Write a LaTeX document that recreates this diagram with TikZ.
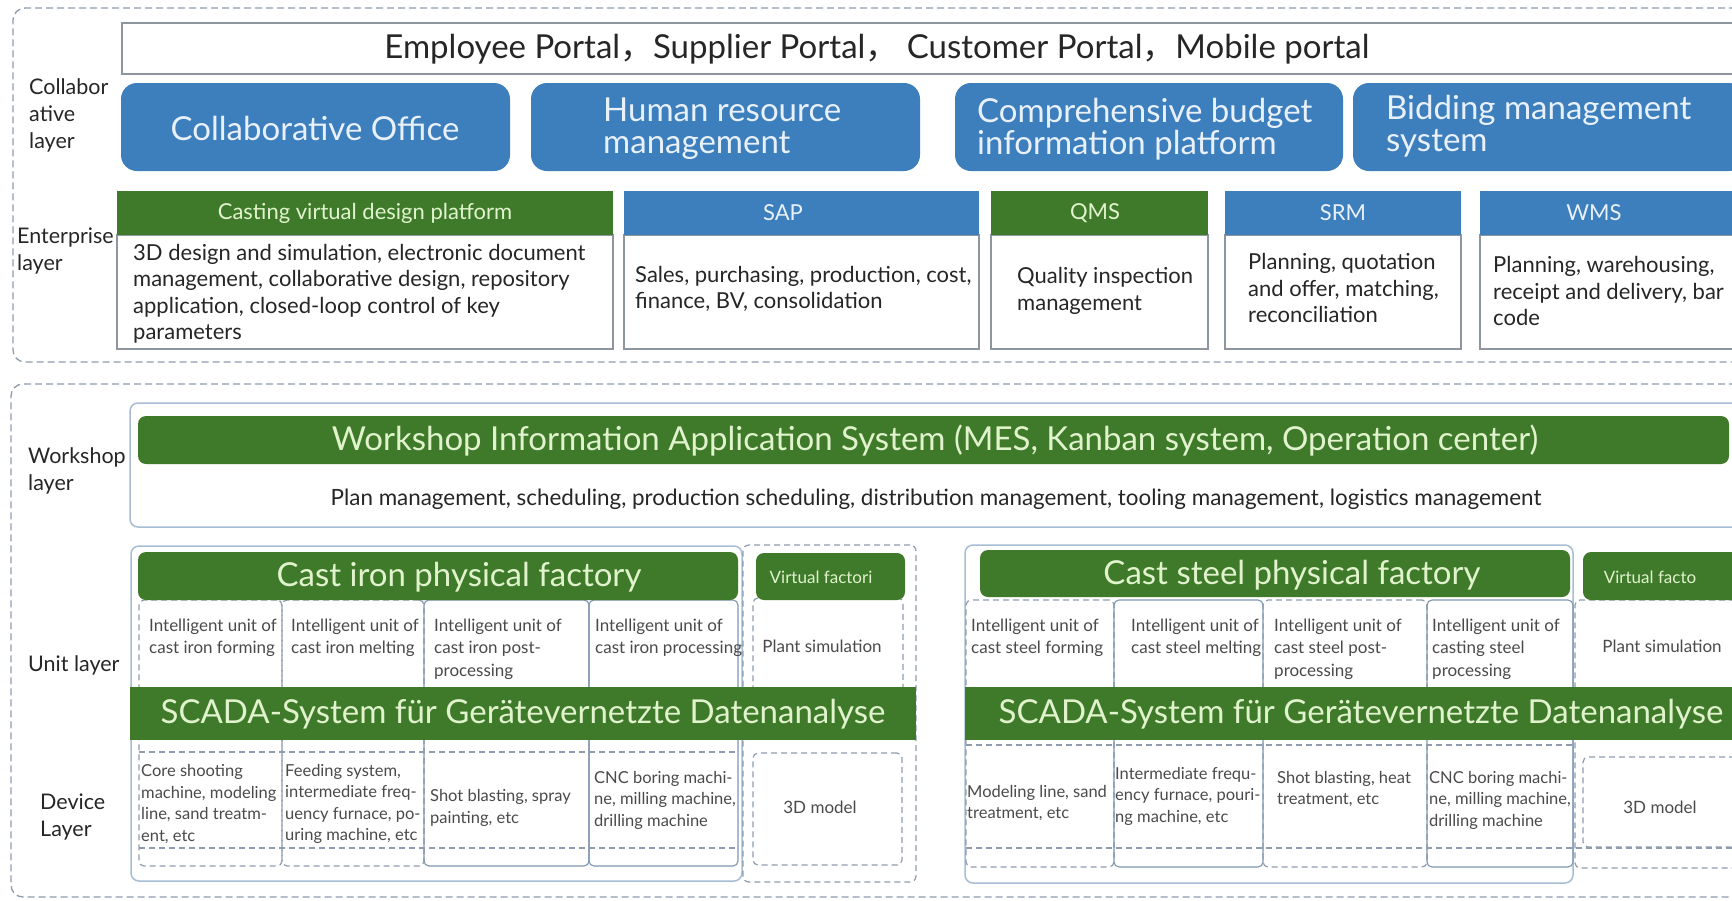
\documentclass[tikz,border=0pt]{standalone}
\usepackage{fontspec}
\setmainfont{Lato}
\newfontfamily\cjk{Noto Sans CJK SC}
\usetikzlibrary{fit}
\definecolor{cblue}{HTML}{3D7EBD}
\definecolor{cgreen}{HTML}{3F7A2B}
\definecolor{tgreen}{HTML}{E0F3CC}
\definecolor{tblue}{HTML}{E8F1FA}
\definecolor{dgray}{HTML}{8E9CAE}
\definecolor{bgray}{HTML}{8D959E}
\definecolor{lblue}{HTML}{A7BDD3}
\definecolor{sblue}{HTML}{7E96B2}
\definecolor{txt}{HTML}{262626}
\definecolor{stxt}{HTML}{4A4A4A}

\newcommand{\bx}[6]{%
  \coordinate (#1-nw) at (#2,#3);
  \coordinate (#1-se) at (#4,#5);
  \node[#6, inner sep=0pt, outer sep=0pt, fit=(#1-nw)(#1-se)] (#1) {};}

\tikzset{
  outerdash/.style={draw=dgray, dash pattern=on 7pt off 4pt, line width=1.3pt, rounded corners=12pt},
  portalbox/.style={draw=bgray, line width=1.5pt, fill=white},
  bluebox/.style={fill=cblue, rounded corners=16pt},
  greenhead/.style={fill=cgreen},
  bluehead/.style={fill=cblue},
  bodybox/.style={draw=bgray, line width=1.5pt, fill=white},
  lightbox/.style={draw=lblue, line width=1.5pt, rounded corners=8pt, fill=white},
  celldash/.style={draw=dgray, dash pattern=on 6pt off 4pt, line width=1.2pt, rounded corners=5pt},
  cellsolid/.style={draw=sblue, line width=1.1pt, rounded corners=5pt},
  dline/.style={draw=dgray, dash pattern=on 6pt off 4pt, line width=1.2pt},
  lbl/.style={font=\fontsize{21.5}{27}\selectfont, text=txt, align=left, anchor=west, inner sep=0pt},
  bluetxt/.style={font=\fontsize{33}{32}\selectfont, text=tblue, align=left, inner sep=0pt},
  headtxt/.style={font=\fontsize{22}{24}\selectfont, inner sep=0pt},
  bodytxt/.style={font=\fontsize{22}{26.5}\selectfont, text=txt, align=left, anchor=west, inner sep=0pt},
  bigtxt/.style={font=\fontsize{33}{34}\selectfont, text=tgreen, inner sep=0pt},
  unittxt/.style={font=\fontsize{17}{22.5}\selectfont, text=stxt, align=left, anchor=west, inner sep=0pt},
  devtxt/.style={font=\fontsize{16.5}{21.5}\selectfont, text=stxt, align=left, anchor=west, inner sep=0pt},
  vtxt/.style={font=\fontsize{17}{18}\selectfont, text=stxt, inner sep=0pt},
  vhtxt/.style={font=\fontsize{17}{18}\selectfont, text=tgreen, inner sep=0pt}
}

\begin{document}
\begin{tikzpicture}[x=1pt,y=-1pt]
\useasboundingbox (0,0) rectangle (1732,900);
\clip (0,0) rectangle (1732,900);
\fill[white] (0,0) rectangle (1732,900);

% ---------- upper section ----------
\bx{topframe}{13}{8}{1770}{362}{outerdash}
\bx{portal}{122}{23}{1760}{74}{portalbox}
\node[font=\fontsize{33}{36}\selectfont, text=txt, inner sep=0pt] (tportal) at (877,49)
  {Employee Portal{\cjk ，}Supplier Portal{\cjk ，} Customer Portal{\cjk ，}Mobile portal};

\bx{co}{121}{83}{510}{171}{bluebox}
\bx{hr}{531}{83}{920}{171}{bluebox}
\bx{cb}{955}{83}{1343}{171}{bluebox}
\bx{bm}{1353}{83}{1745}{171}{bluebox}
\node[bluetxt] (tco) at (315,128) {Collaborative Office};
\node[bluetxt, anchor=west] (thr) at (603,129) {Human resource\\management};
\node[bluetxt, anchor=west] (tcb) at (977,129) {Comprehensive budget\\information platform};
\node[bluetxt, anchor=west] (tbm) at (1386,126) {Bidding management\\system};

% enterprise systems
\bx{cvdb}{117}{235}{613}{349}{bodybox}
\bx{cvdh}{117}{191}{613}{235}{greenhead}
\bx{sapb}{624}{235}{979}{349}{bodybox}
\bx{saph}{624}{191}{979}{235}{bluehead}
\bx{qmsb}{991}{235}{1208}{349}{bodybox}
\bx{qmsh}{991}{191}{1208}{235}{greenhead}
\bx{srmb}{1225}{235}{1461}{349}{bodybox}
\bx{srmh}{1225}{191}{1461}{235}{bluehead}
\bx{wmsb}{1480}{235}{1760}{349}{bodybox}
\bx{wmsh}{1480}{191}{1760}{235}{bluehead}

\node[headtxt, text=tgreen] (tcvdh) at (365,213) {Casting virtual design platform};
\node[headtxt, text=tblue] (tsaph) at (783,213) {SAP};
\node[headtxt, text=tgreen] (tqmsh) at (1095,213) {QMS};
\node[headtxt, text=tblue] (tsrmh) at (1343,213) {SRM};
\node[headtxt, text=tblue] (twmsh) at (1594,213) {WMS};

\node[bodytxt] (tcvdb) at (133,294) {3D design and simulation, electronic document\\management, collaborative design, repository\\application, closed-loop control of key\\parameters};
\node[bodytxt] (tsapb) at (635,289) {Sales, purchasing, production, cost,\\ finance, BV, consolidation};
\node[bodytxt] (tqmsb) at (1017,291) {Quality inspection\\management};
\node[bodytxt] (tsrmb) at (1248,288) {Planning, quotation\\and offer, matching,\\reconciliation};
\node[bodytxt] (twmsb) at (1493,291) {Planning, warehousing,\\receipt and delivery, bar\\code};

\node[lbl] (lcol) at (29,115) {Collabor\\ative\\layer};
\node[lbl] (lent) at (17,251) {Enterprise\\layer};

% ---------- lower section ----------
\bx{botframe}{11}{384}{1770}{897}{outerdash}

\bx{wsbox}{130}{403}{1760}{527}{lightbox}
\bx{wshead}{138}{416}{1729}{464}{greenhead, rounded corners=8pt}
\node[bigtxt] (twshead) at (935,441) {Workshop Information Application System (MES, Kanban system, Operation center)};
\node[font=\fontsize{22.4}{24}\selectfont, text=txt, inner sep=0pt] (tplan) at (936,499) {Plan management, scheduling, production scheduling, distribution management, tooling management, logistics management};

\node[lbl] (lws) at (28,471) {Workshop\\layer};
\node[lbl] (lunit) at (28,665) {Unit layer};
\node[lbl] (ldev) at (40,817) {Device\\Layer};

% cast iron factory
\bx{irongrp}{131}{546}{742}{881}{lightbox}
\bx{ic1}{139}{600}{282}{866}{celldash}
\bx{ic2}{282}{600}{424}{866}{celldash}
\bx{ic3}{424}{600}{589}{866}{cellsolid}
\bx{ic4}{589}{600}{738}{866}{cellsolid}
\coordinate (il1a) at (139,752); \coordinate (il1b) at (738,752);
\coordinate (il2a) at (139,848); \coordinate (il2b) at (738,848);
\draw[dline] (il1a) -- (il1b);
\draw[dline] (il2a) -- (il2b);

\bx{ivf}{743}{545}{916}{882}{celldash, rounded corners=6pt}
\bx{ivp}{753}{598}{903}{700}{celldash}
\bx{ivm}{753}{753}{902}{865}{celldash}

\bx{ironhead}{138}{552}{738}{600}{greenhead, rounded corners=8pt}
\node[bigtxt] (tironhead) at (459,577) {Cast iron physical factory};
\bx{ivh}{756}{553}{905}{600}{greenhead, rounded corners=8pt}
\node[vhtxt] (tivh) at (821,577) {Virtual factori};

\bx{ironscada}{130}{687}{916}{740}{greenhead}
\node[bigtxt] (tironscada) at (523,714) {SCADA-System für Gerätevernetzte Datenanalyse};

\node[unittxt] (tiu1) at (149,638) {Intelligent unit of\\cast iron forming};
\node[unittxt] (tiu2) at (291,638) {Intelligent unit of\\ cast iron melting};
\node[unittxt] (tiu3) at (434,649) {Intelligent unit of\\cast iron post-\\processing};
\node[unittxt] (tiu4) at (595,638) {Intelligent unit of\\cast iron processing};
\node[vtxt] (tivp) at (822,646) {Plant simulation};

\node[devtxt] (tid1) at (141,804) {Core shooting\\machine, modeling\\line, sand treatm-\\ent, etc};
\node[devtxt] (tid2) at (285,804) {Feeding system,\\intermediate freq-\\uency furnace, po-\\uring machine, etc};
\node[devtxt] (tid3) at (430,808) {Shot blasting, spray\\painting, etc};
\node[devtxt] (tid4) at (594,800) {CNC boring machi-\\ne, milling machine,\\drilling machine};
\node[vtxt] (tivm) at (820,807) {3D model};

% cast steel factory
\bx{steelgrp}{965}{545}{1573}{883}{lightbox}
\bx{sc1}{966}{600}{1114}{867}{celldash}
\bx{sc2}{1114}{600}{1263}{867}{cellsolid}
\bx{sc3}{1263}{600}{1427}{867}{celldash}
\bx{sc4}{1427}{600}{1573}{867}{cellsolid}
\bx{svf}{1575}{600}{1770}{868}{celldash}
\coordinate (sl1a) at (966,745); \coordinate (sl1b) at (1573,745);
\coordinate (sl2a) at (966,848); \coordinate (sl2b) at (1760,848);
\draw[dline] (sl1a) -- (sl1b);
\draw[dline] (sl2a) -- (sl2b);
\bx{svm}{1583}{757}{1770}{847}{celldash}

\bx{steelhead}{980}{550}{1570}{597}{greenhead, rounded corners=8pt}
\node[bigtxt] (tsteelhead) at (1292,575) {Cast steel physical factory};
\bx{svh}{1583}{552}{1770}{600}{greenhead, rounded corners=8pt}
\node[vhtxt] (tsvh) at (1650,577) {Virtual facto};

\bx{steelscada}{965}{687}{1760}{740}{greenhead}
\node[bigtxt] (tsteelscada) at (1361,714) {SCADA-System für Gerätevernetzte Datenanalyse};

\node[unittxt] (tsu1) at (971,638) {Intelligent unit of\\cast steel forming};
\node[unittxt] (tsu2) at (1131,638) {Intelligent unit of\\cast steel melting};
\node[unittxt] (tsu3) at (1274,649) {Intelligent unit of\\cast steel post-\\processing};
\node[unittxt] (tsu4) at (1432,649) {Intelligent unit of\\casting steel\\processing};
\node[vtxt] (tsvp) at (1662,646) {Plant simulation};

\node[devtxt] (tsd1) at (967,803) {Modeling line, sand\\treatment, etc};
\node[devtxt] (tsd2) at (1115,796) {Intermediate frequ-\\ency furnace, pouri-\\ng machine, etc};
\node[devtxt] (tsd3) at (1277,789) {Shot blasting, heat\\treatment, etc};
\node[devtxt] (tsd4) at (1429,800) {CNC boring machi-\\ne, milling machine,\\drilling machine};
\node[vtxt] (tsvm) at (1660,807) {3D model};
\end{tikzpicture}
\end{document}
